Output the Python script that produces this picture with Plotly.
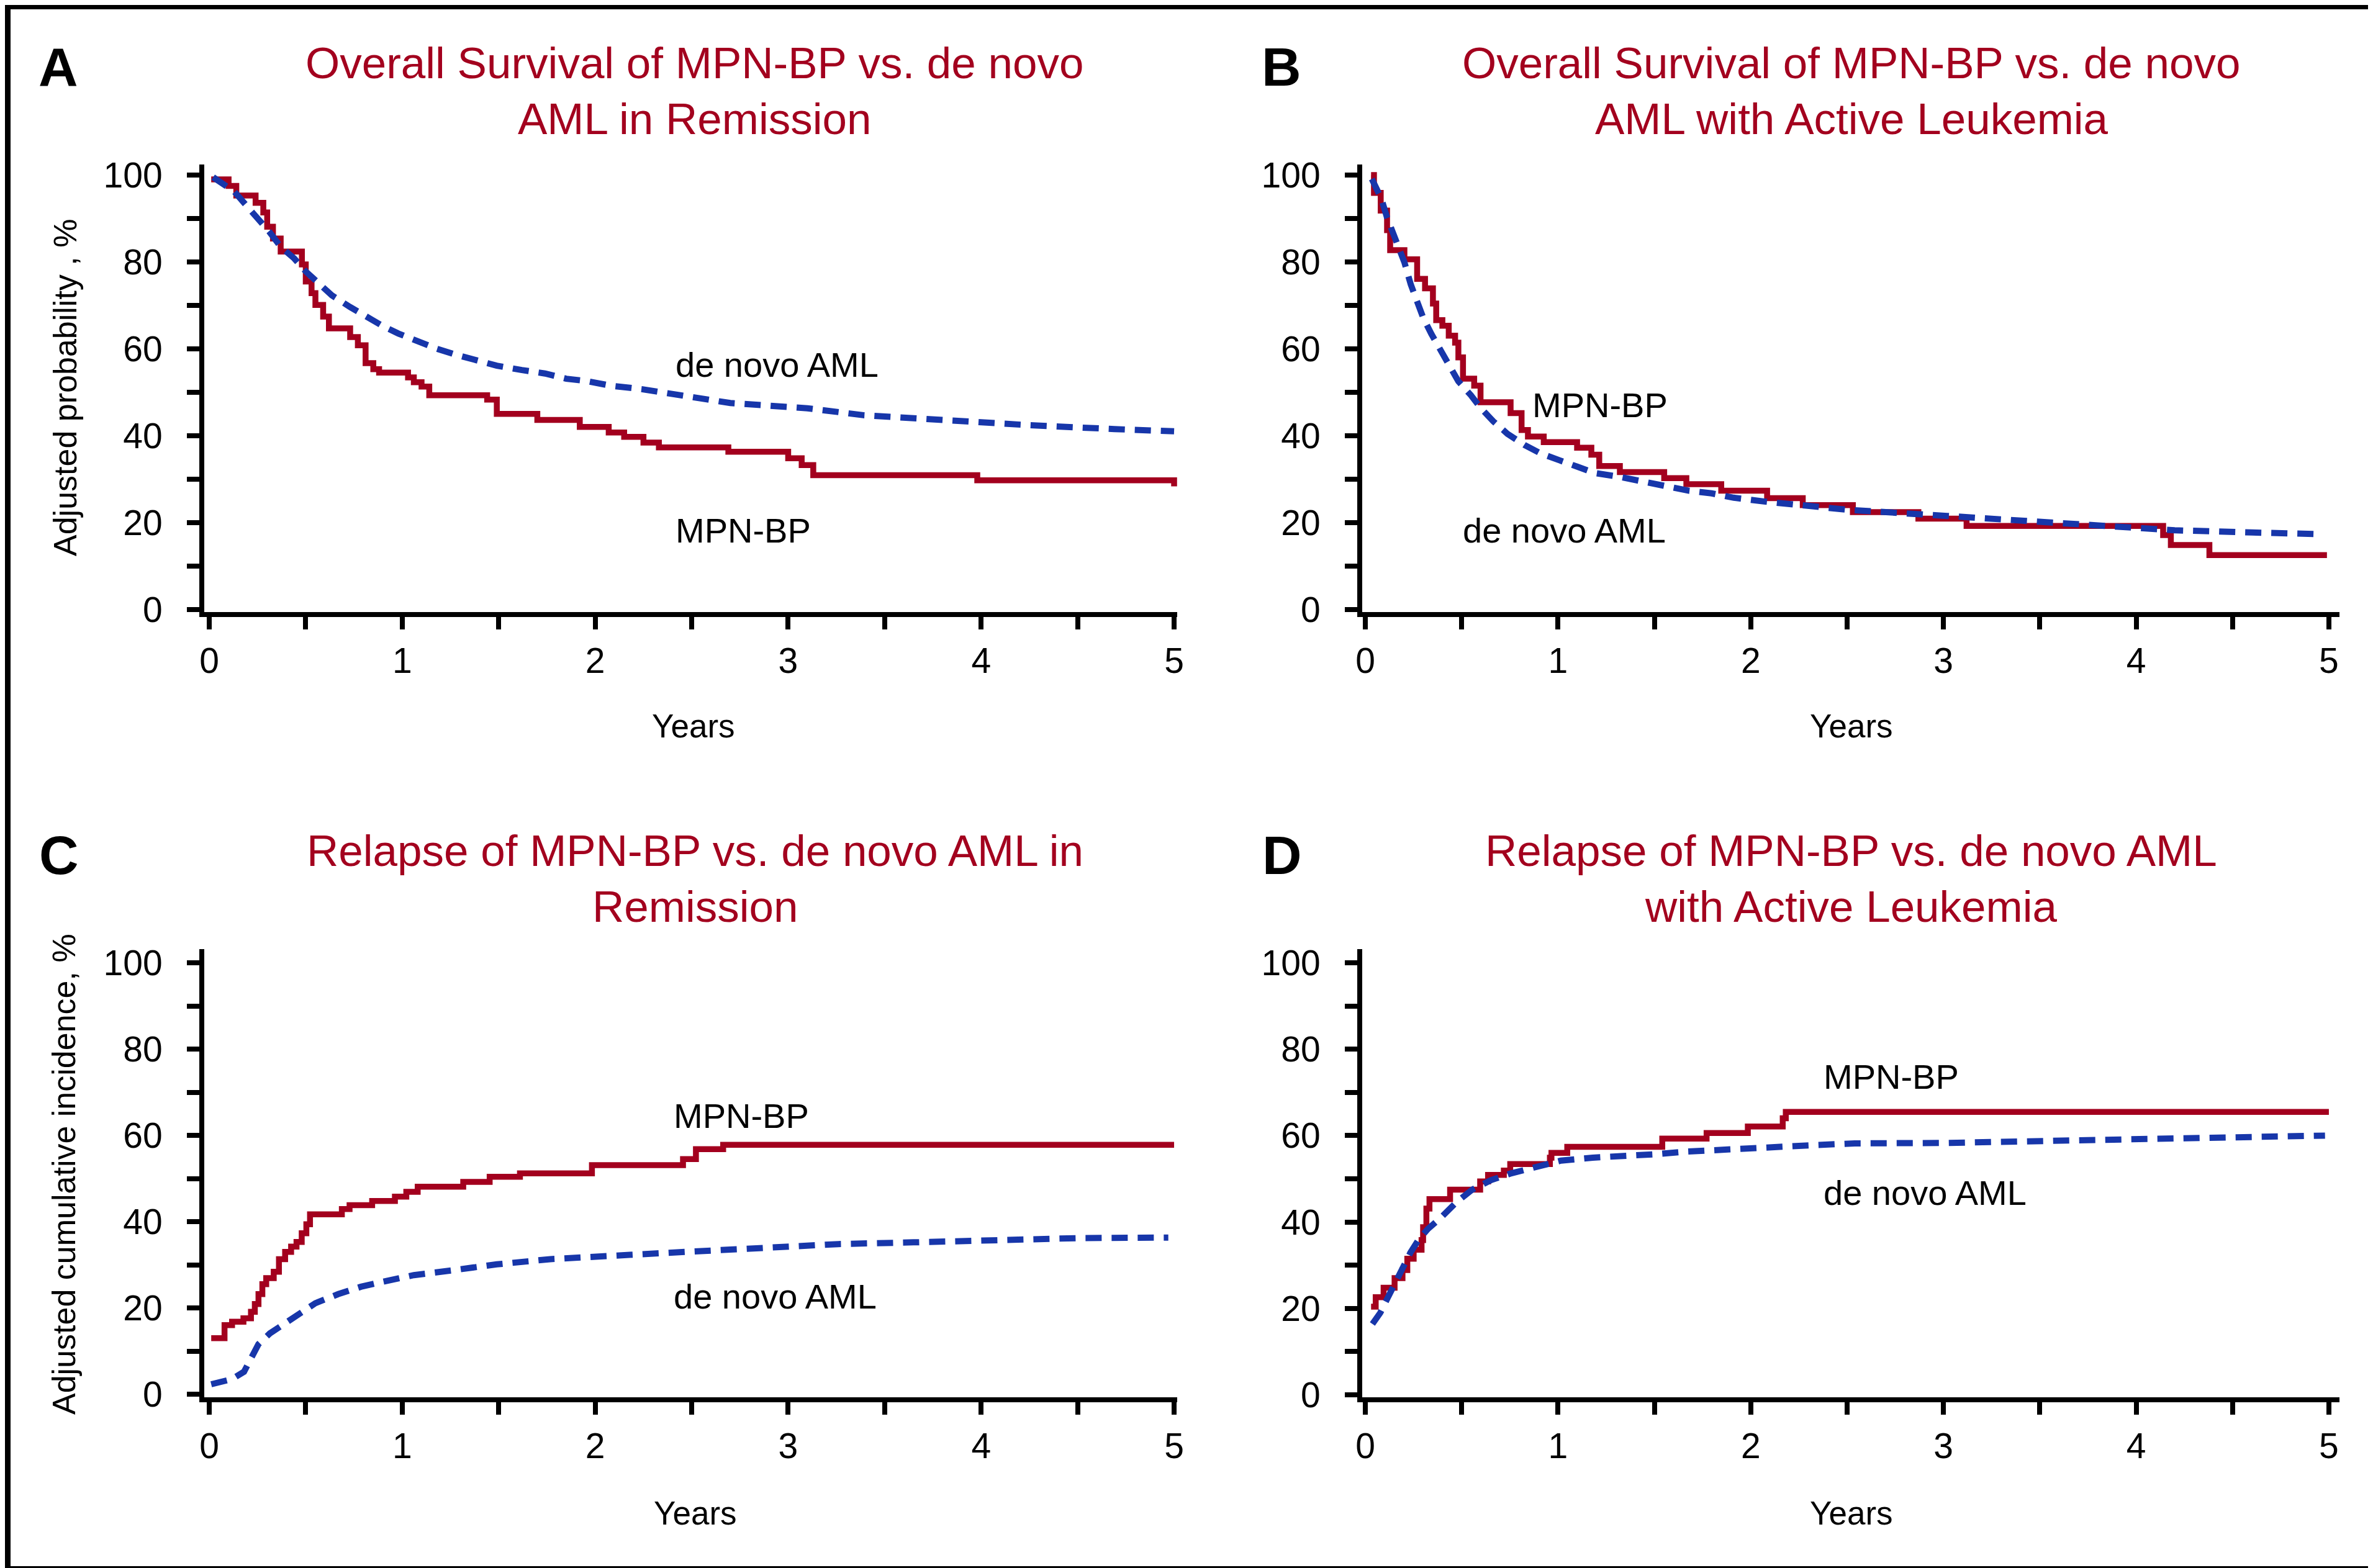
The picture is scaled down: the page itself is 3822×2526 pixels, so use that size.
import plotly.graph_objects as go
from plotly.subplots import make_subplots

W, H = 3822, 2526
RED = "#A3001E"
BLUE = "#1736AA"
SANS = "Liberation Sans, Arial, Helvetica, sans-serif"

# --- A: overall survival, in remission ---
a_mpn_t = [0.01, 0.10, 0.14, 0.24, 0.28, 0.30, 0.33, 0.37, 0.48, 0.50, 0.53, 0.55, 0.59, 0.62,
           0.73, 0.77, 0.81, 0.85, 0.88, 1.03, 1.06, 1.10, 1.14, 1.44, 1.49, 1.70, 1.92, 2.07,
           2.15, 2.25, 2.33, 2.69, 3.00, 3.07, 3.13, 3.98, 4.99, 5.00]
a_mpn_v = [99.0, 97.5, 95.3, 93.6, 91.4, 88.1, 85.4, 82.4, 79.4, 75.5, 72.8, 70.1, 67.4, 64.7,
           62.7, 60.8, 56.7, 55.3, 54.5, 53.4, 52.3, 51.3, 49.3, 48.3, 45.0, 43.6, 42.0, 40.7,
           39.7, 38.4, 37.3, 36.3, 34.8, 33.2, 30.9, 29.7, 29.7, 28.3]
a_aml_t = [0.02, 0.13, 0.19, 0.25, 0.31, 0.37, 0.44, 0.50, 0.57, 0.635, 0.73, 0.82, 0.90, 0.98,
           1.08, 1.18, 1.28, 1.39, 1.49, 1.62, 1.74, 1.85, 1.95, 2.08, 2.24, 2.70, 3.10, 3.39,
           3.82, 4.25, 4.69, 5.00]
a_aml_v = [99.5, 96.2, 93.1, 90.1, 87.0, 83.5, 80.8, 77.8, 74.7, 72.3, 69.6, 67.1, 65.2, 63.5,
           61.6, 60.0, 58.6, 57.3, 56.1, 55.1, 54.3, 53.1, 52.6, 51.5, 50.7, 47.5, 46.3, 44.7,
           43.5, 42.4, 41.5, 41.0]

# --- B: overall survival, active leukemia ---
b_mpn_t = [0.03, 0.045, 0.08, 0.113, 0.129, 0.203, 0.269, 0.31, 0.351, 0.368, 0.40, 0.433, 0.466,
           0.483, 0.507, 0.565, 0.598, 0.754, 0.811, 0.844, 0.926, 1.099, 1.173, 1.214, 1.321,
           1.551, 1.666, 1.847, 2.085, 2.27, 2.53, 2.87, 3.12, 4.14, 4.18, 4.38, 4.99]
b_mpn_v = [100.0, 95.9, 91.8, 87.3, 82.7, 80.6, 76.1, 73.9, 70.4, 66.6, 65.3, 63.0, 61.4,
           58.0, 53.1, 51.5, 47.7, 45.2, 41.3, 39.8, 38.5, 37.2, 35.6, 33.0, 31.6,
           30.2, 28.8, 27.3, 25.6, 24.0, 22.4, 20.9, 19.2, 17.1, 14.8, 12.5, 12.5]
b_aml_t = [0.034, 0.083, 0.113, 0.162, 0.203, 0.236, 0.269, 0.30, 0.343, 0.384, 0.433, 0.483,
           0.548, 0.598, 0.664, 0.738, 0.828, 0.91, 1.009, 1.099, 1.19, 1.32, 1.435, 1.567,
           1.68, 1.797, 1.912, 2.076, 2.51, 3.02, 3.50, 4.00, 4.20, 4.60, 4.97]
b_aml_v = [99.1, 94.6, 90.2, 85.0, 79.9, 74.8, 71.0, 67.2, 63.4, 60.2, 56.3, 52.5,
           49.3, 46.4, 43.3, 40.4, 37.8, 35.9, 34.3, 32.7, 31.4, 30.5, 29.5, 28.2,
           27.3, 26.7, 25.7, 24.8, 22.9, 21.5, 20.3, 18.8, 18.2, 17.7, 17.3]

# --- C: relapse, in remission ---
c_mpn_t = [0.01, 0.079, 0.118, 0.177, 0.216, 0.236, 0.255, 0.275, 0.295, 0.334, 0.361, 0.393,
           0.424, 0.452, 0.479, 0.503, 0.522, 0.687, 0.727, 0.844, 0.962, 1.021, 1.080, 1.316,
           1.453, 1.610, 1.983, 2.455, 2.522, 2.663, 5.0]
c_mpn_v = [13.0, 16.0, 16.8, 17.6, 19.1, 20.9, 23.2, 25.5, 26.9, 28.4, 31.3, 33.0,
           34.2, 35.3, 37.3, 39.4, 41.7, 42.9, 43.8, 44.8, 45.8, 46.9, 48.1, 49.2,
           50.4, 51.2, 53.1, 54.5, 56.8, 57.8, 57.8]
c_aml_t = [0.01, 0.118, 0.18, 0.216, 0.255, 0.314, 0.393, 0.471, 0.55, 0.668, 0.786, 0.903,
           1.06, 1.257, 1.49, 1.767, 2.08, 2.47, 2.87, 3.26, 3.65, 4.05, 4.52, 4.97]
c_aml_v = [2.3, 3.5, 5.2, 8.1, 11.6, 14.1, 16.5, 18.8, 21.1, 23.2, 24.9, 26.1,
           27.6, 28.7, 30.1, 31.3, 32.2, 33.0, 33.9, 34.8, 35.2, 35.7, 36.2, 36.3]

# --- D: relapse, active leukemia ---
d_mpn_t = [0.03, 0.054, 0.095, 0.152, 0.193, 0.218, 0.251, 0.292, 0.300, 0.317, 0.333, 0.440,
           0.596, 0.637, 0.719, 0.752, 0.958, 0.966, 1.048, 1.541, 1.771, 1.985, 2.166, 2.182, 5.0]
d_mpn_v = [20.4, 22.6, 24.8, 27.0, 28.9, 31.5, 33.6, 35.8, 38.8, 43.1, 45.3, 47.5,
           49.4, 50.9, 51.9, 53.4, 54.9, 56.0, 57.4, 59.3, 60.6, 62.1, 64.0, 65.5, 65.5]
d_aml_t = [0.037, 0.078, 0.11, 0.152, 0.193, 0.234, 0.275, 0.325, 0.39, 0.473, 0.555, 0.653,
           0.752, 0.884, 1.015, 1.18, 1.34, 1.51, 1.67, 1.84, 2.08, 2.33, 2.54, 3.02, 3.80,
           4.31, 4.98]
d_aml_v = [16.4, 19.0, 21.9, 25.6, 29.9, 32.9, 35.8, 38.4, 40.9, 44.6, 47.5, 49.7,
           51.2, 52.7, 54.2, 54.9, 55.2, 55.7, 56.3, 56.7, 57.5, 57.8, 58.2, 58.3, 59.0,
           59.5, 60.0]

titles = [["Overall Survival of MPN-BP vs. de novo", "AML in Remission"],
          ["Overall Survival of MPN-BP vs. de novo", "AML with Active Leukemia"],
          ["Relapse of MPN-BP vs. de novo AML in", "Remission"],
          ["Relapse of MPN-BP vs. de novo AML", "with Active Leukemia"]]
letters = ["A", "B", "C", "D"]
ytitles = ["Adjusted probability , %", "", "Adjusted cumulative incidence, %", ""]
year_ticks = [0, 1, 2, 3, 4, 5]
pct_ticks = [0, 20, 40, 60, 80, 100]

# label text, x (years), y (%) for the inline curve labels
labels = [
    [("de novo AML", 2.41, 56.3), ("MPN-BP", 2.41, 18.1)],
    [("MPN-BP", 0.86, 47.1), ("de novo AML", 0.50, 18.1)],
    [("MPN-BP", 2.40, 64.5), ("de novo AML", 2.40, 22.6)],
    [("MPN-BP", 2.37, 73.6), ("de novo AML", 2.37, 46.8)],
]

series = [(a_mpn_t, a_mpn_v, a_aml_t, a_aml_v),
          (b_mpn_t, b_mpn_v, b_aml_t, b_aml_v),
          (c_mpn_t, c_mpn_v, c_aml_t, c_aml_v),
          (d_mpn_t, d_mpn_v, d_aml_t, d_aml_v)]

# pixel boxes of each plot area: (left, right, top, bottom), plus axis ranges
boxes = [(321, 1888, 257, 978), (2186, 3760, 257, 978),
         (321, 1888, 1521, 2243), (2186, 3760, 1521, 2243)]
xranges = [[-0.026, 5.016], [-0.016, 5.055], [-0.026, 5.016], [-0.016, 5.055]]
yranges = [[-0.63, 102.43], [-0.63, 102.43], [-0.72, 103.17], [-0.57, 103.16]]
# centre x, and the y of each title line
title_pos = [(1111, 93, 183), (2974, 93, 183), (1111, 1362, 1452), (2973, 1362, 1452)]
letter_pos = [(86, 99), (2056, 99), (87, 1369), (2057, 1369)]
years_pos = [(1109, 1161), (2974, 1161), (1112, 2429), (2974, 2429)]
ytitle_pos = [(97, 617), None, (95, 1884), None]

fig = make_subplots(rows=2, cols=2)

for i, (mt, mv, at, av) in enumerate(series):
    r, c = i // 2 + 1, i % 2 + 1
    fig.add_trace(go.Scatter(x=mt, y=mv, mode="lines", line_shape="hv",
                             line=dict(color=RED, width=9.5), showlegend=False), row=r, col=c)
    fig.add_trace(go.Scatter(x=at, y=av, mode="lines",
                             line=dict(color=BLUE, width=10, dash="26px,16px"),
                             showlegend=False), row=r, col=c)

ann = []
for i in range(4):
    l, rgt, t, b = boxes[i]
    sfx = "" if i == 0 else str(i + 1)
    fig.layout["xaxis" + sfx].update(
        domain=[l / W, rgt / W], range=xranges[i], tickvals=year_ticks,
        showline=True, linecolor="black", linewidth=8, ticks="outside", ticklen=20,
        tickwidth=8, tickcolor="black", showgrid=False, zeroline=False,
        tickfont=dict(family=SANS, size=57, color="black"), ticklabelstandoff=2,
        minor=dict(dtick=0.5, tick0=0, ticks="outside", ticklen=20, tickwidth=8, tickcolor="black"))
    fig.layout["yaxis" + sfx].update(
        domain=[1 - b / H, 1 - t / H], range=yranges[i], tickvals=pct_ticks,
        showline=True, linecolor="black", linewidth=8, ticks="outside", ticklen=20,
        tickwidth=8, tickcolor="black", showgrid=False, zeroline=False,
        tickfont=dict(family=SANS, size=57, color="black"), ticklabelstandoff=28,
        minor=dict(dtick=10, tick0=0, ticks="outside", ticklen=20, tickwidth=8, tickcolor="black"))

    tx, ty1, ty2 = title_pos[i]
    for line, ty in zip(titles[i], (ty1, ty2)):
        ann.append(dict(text=line, x=tx / W, y=1 - ty / H, xref="paper", yref="paper",
                        xanchor="center", yanchor="middle", showarrow=False,
                        font=dict(family=SANS, size=71, color=RED)))
    lx, ly = letter_pos[i]
    ann.append(dict(text="<b>" + letters[i] + "</b>", x=lx / W, y=1 - ly / H, xref="paper",
                    yref="paper", xanchor="center", yanchor="middle", showarrow=False,
                    font=dict(family=SANS, size=88, color="black")))
    yx, yy = years_pos[i]
    ann.append(dict(text="Years", x=yx / W, y=1 - yy / H, xref="paper", yref="paper",
                    xanchor="center", yanchor="middle", showarrow=False,
                    font=dict(family=SANS, size=53, color="black")))
    if ytitle_pos[i]:
        px_, py_ = ytitle_pos[i]
        ann.append(dict(text=ytitles[i], x=px_ / W, y=1 - py_ / H, xref="paper", yref="paper",
                        xanchor="center", yanchor="middle", textangle=-90, showarrow=False,
                        font=dict(family=SANS, size=52, color="black")))
    for txt, x, y in labels[i]:
        ann.append(dict(text=txt, x=x, y=y, xref="x" + sfx, yref="y" + sfx,
                        xanchor="left", yanchor="middle", showarrow=False,
                        font=dict(family=SANS, size=56, color="black")))

# black frame around the figure
frame = [(0, 0, W, 7), (0, 0, 9, H), (W - 15, 0, W, H), (0, H - 11, W, H)]
shapes = [dict(type="rect", xref="paper", yref="paper", x0=x0 / W, x1=x1 / W,
               y0=1 - y1 / H, y1=1 - y0 / H, fillcolor="black", line_width=0, layer="above")
          for x0, y0, x1, y1 in frame]

fig.update_layout(width=W, height=H, margin=dict(l=0, r=0, t=0, b=0),
                  paper_bgcolor="white", plot_bgcolor="white", template="none",
                  annotations=ann, shapes=shapes, showlegend=False)

fig.write_html("out.html")
